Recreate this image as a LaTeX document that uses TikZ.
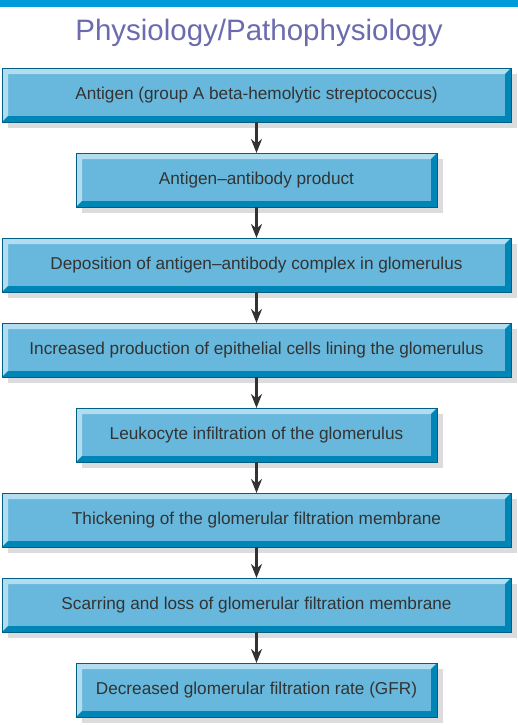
\documentclass[tikz,border=0pt]{standalone}
\usepackage{fontspec}
\setmainfont{Liberation Sans}
\usetikzlibrary{positioning, arrows.meta, shadows, calc}
\definecolor{topbar}{HTML}{009BDB}
\definecolor{titleblue}{HTML}{6B6BAE}
\definecolor{boxface}{HTML}{67B8DC}
\definecolor{boxlight}{HTML}{B2DDF1}
\definecolor{boxdark}{HTML}{0086B6}
\definecolor{boxline}{HTML}{005F82}
\definecolor{shadowgray}{HTML}{DCDCDE}
\definecolor{textgray}{HTML}{333333}

\tikzset{
  stepbox/.style={fill=boxface, draw=boxline, line width=0.8pt, outer sep=0pt,
    minimum height=54pt, text=textgray, font=\fontsize{17.2}{20}\selectfont,
    drop shadow={shadow xshift=6pt, shadow yshift=-6pt, fill=shadowgray, opacity=1},
    path picture={
      \coordinate (nw) at (path picture bounding box.north west);
      \coordinate (ne) at (path picture bounding box.north east);
      \coordinate (sw) at (path picture bounding box.south west);
      \coordinate (se) at (path picture bounding box.south east);
      \fill[boxlight] (nw) -- (ne) -- ($(ne)+(-6pt,-6pt)$) -- ($(nw)+(6pt,-6pt)$)
        -- ($(sw)+(6pt,6pt)$) -- (sw) -- cycle;
      \fill[boxdark] (se) -- (ne) -- ($(ne)+(-6pt,-6pt)$) -- ($(se)+(-6pt,6pt)$)
        -- ($(sw)+(6pt,6pt)$) -- (sw) -- cycle;
    }},
  widebox/.style={stepbox, minimum width=509pt},
  narrowbox/.style={stepbox, minimum width=361pt},
  flowarrow/.style={draw=textgray, line width=2.6pt, -{Stealth[length=14pt, width=11pt]}}
}

\begin{document}
\begin{tikzpicture}[node distance=31pt]
  \useasboundingbox (0,0) rectangle (518pt,-726pt);
  \fill[topbar] (0,0) rectangle (518pt,-7pt);
  \node[anchor=base, text=titleblue, font=\fontsize{29.5}{34}\selectfont] (title)
    at (259pt,-40pt) {Physiology/Pathophysiology};

  \node[widebox] (antigen) at (256.5pt,-95pt) {Antigen (group A beta-hemolytic streptococcus)};
  \node[narrowbox, below=of antigen] (product) {Antigen--antibody product};
  \node[widebox, below=of product] (deposit) {Deposition of antigen--antibody complex in glomerulus};
  \node[widebox, below=of deposit] (epith) {Increased production of epithelial cells lining the glomerulus};
  \node[narrowbox, below=of epith] (leuko) {Leukocyte infiltration of the glomerulus};
  \node[widebox, below=of leuko] (thick) {Thickening of the glomerular filtration membrane};
  \node[widebox, below=of thick] (scar) {Scarring and loss of glomerular filtration membrane};
  \node[narrowbox, below=of scar] (gfr) {Decreased glomerular filtration rate (GFR)};

  \foreach \from/\to in {antigen/product, product/deposit, deposit/epith, epith/leuko,
      leuko/thick, thick/scar, scar/gfr}
    \draw[flowarrow] (\from) -- (\to);
\end{tikzpicture}
\end{document}
